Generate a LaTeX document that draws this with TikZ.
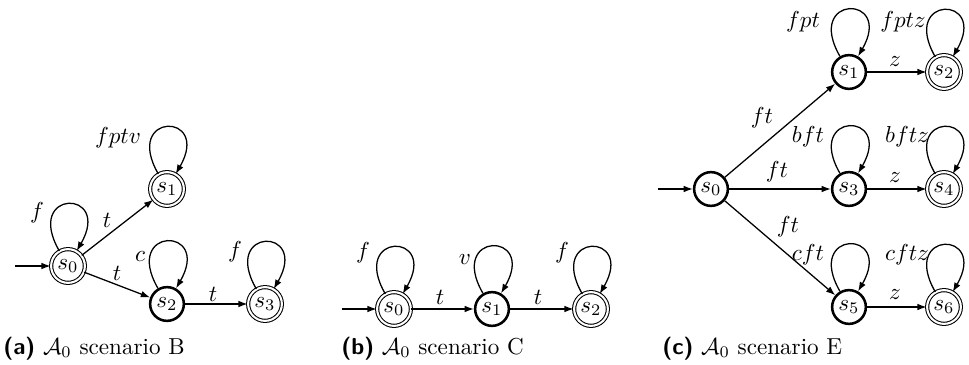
\documentclass[tikz,border=0pt]{standalone}
\usetikzlibrary{arrows.meta,calc}
\begin{document}
\begin{tikzpicture}[x=0.4329pt,y=0.4329pt,
  st/.style={circle, draw, line width=1.1pt, minimum size=14.6pt, inner sep=0pt},
  acc/.style={circle, draw, double, line width=0.45pt, double distance=0.9pt, minimum size=14.6pt, inner sep=0pt},
  arr/.style={-{Latex[length=4pt,width=2.9pt]}, line width=0.55pt},
  lbl/.style={inner sep=0pt},
  captxt/.style={anchor=base west, inner sep=0pt}]
\useasboundingbox (0,0) rectangle (969,-365);

% ---------- (a) ----------
\node[acc] (a0) at (68,-266) {$s_0$};
\node[acc] (a1) at (167,-189) {$s_1$};
\node[st]  (a2) at (167,-304) {$s_2$};
\node[acc] (a3) at (265,-304) {$s_3$};
\coordinate (ai) at (15,-266);
\draw[arr] (ai) -- (a0);
\draw[arr] (a0) -- (a1) node[lbl] at (107,-220) {$t$};
\draw[arr] (a0) -- (a2) node[lbl] at (117,-273) {$t$};
\draw[arr] (a2) -- (a3) node[lbl] at (213,-294) {$t$};
\draw[arr] (a0.120) .. controls +(120:72) and +(60:72) .. (a0.60) node[lbl] at ($(a0)+(-31,53)$) {$f$};
\draw[arr] (a1.120) .. controls +(120:72) and +(60:72) .. (a1.60) node[lbl] at ($(a1)+(-49,51)$) {$fptv$};
\draw[arr] (a2.120) .. controls +(120:72) and +(60:72) .. (a2.60) node[lbl] at ($(a2)+(-27,47)$) {$c$};
\draw[arr] (a3.120) .. controls +(120:72) and +(60:72) .. (a3.60) node[lbl] at ($(a3)+(-30,52)$) {$f$};
\node[captxt] (capa) at (3,-354) {\textsf{\textbf{(a)}} $\mathcal{A}_0$ scenario B};

% ---------- (b) ----------
\node[acc] (b0) at (394,-309) {$s_0$};
\node[st]  (b1) at (492,-309) {$s_1$};
\node[acc] (b2) at (591,-309) {$s_2$};
\coordinate (bi) at (342,-309);
\draw[arr] (bi) -- (b0);
\draw[arr] (b0) -- (b1) node[lbl] at (440,-297) {$t$};
\draw[arr] (b1) -- (b2) node[lbl] at (538,-297) {$t$};
\draw[arr] (b0.120) .. controls +(120:72) and +(60:72) .. (b0.60) node[lbl] at ($(b0)+(-31,56)$) {$f$};
\draw[arr] (b1.120) .. controls +(120:72) and +(60:72) .. (b1.60) node[lbl] at ($(b1)+(-27,49)$) {$v$};
\draw[arr] (b2.120) .. controls +(120:72) and +(60:72) .. (b2.60) node[lbl] at ($(b2)+(-29,56)$) {$f$};
\node[captxt] (capb) at (341,-354) {\textsf{\textbf{(b)}} $\mathcal{A}_0$ scenario C};

% ---------- (c) ----------
\node[st]  (c0) at (711,-189) {$s_0$};
\node[st]  (c1) at (849,-72) {$s_1$};
\node[acc] (c2) at (944,-72) {$s_2$};
\node[st]  (c3) at (849,-189) {$s_3$};
\node[acc] (c4) at (944,-189) {$s_4$};
\node[st]  (c5) at (849,-307) {$s_5$};
\node[acc] (c6) at (944,-307) {$s_6$};
\coordinate (ci) at (658,-189);
\draw[arr] (ci) -- (c0);
\draw[arr] (c0) -- (c1) node[lbl] at (762,-118) {$ft$};
\draw[arr] (c0) -- (c3) node[lbl] at (777,-172) {$ft$};
\draw[arr] (c0) -- (c5) node[lbl] at (788,-227) {$ft$};
\draw[arr] (c1) -- (c2) node[lbl] at (895,-62) {$z$};
\draw[arr] (c3) -- (c4) node[lbl] at (895,-178) {$z$};
\draw[arr] (c5) -- (c6) node[lbl] at (895,-295) {$z$};
\draw[arr] (c1.120) .. controls +(120:72) and +(60:72) .. (c1.60) node[lbl] at ($(c1)+(-46,50)$) {$fpt$};
\draw[arr] (c2.120) .. controls +(120:72) and +(60:72) .. (c2.60) node[lbl] at ($(c2)+(-41,50)$) {$fptz$};
\draw[arr] (c3.120) .. controls +(120:72) and +(60:72) .. (c3.60) node[lbl] at ($(c3)+(-41,52)$) {$bft$};
\draw[arr] (c4.120) .. controls +(120:72) and +(60:72) .. (c4.60) node[lbl] at ($(c4)+(-37,52)$) {$bftz$};
\draw[arr] (c5.120) .. controls +(120:72) and +(60:72) .. (c5.60) node[lbl] at ($(c5)+(-41,52)$) {$cft$};
\draw[arr] (c6.120) .. controls +(120:72) and +(60:72) .. (c6.60) node[lbl] at ($(c6)+(-37,52)$) {$cftz$};
\node[captxt] (capc) at (662,-354) {\textsf{\textbf{(c)}} $\mathcal{A}_0$ scenario E};
\end{tikzpicture}
\end{document}
